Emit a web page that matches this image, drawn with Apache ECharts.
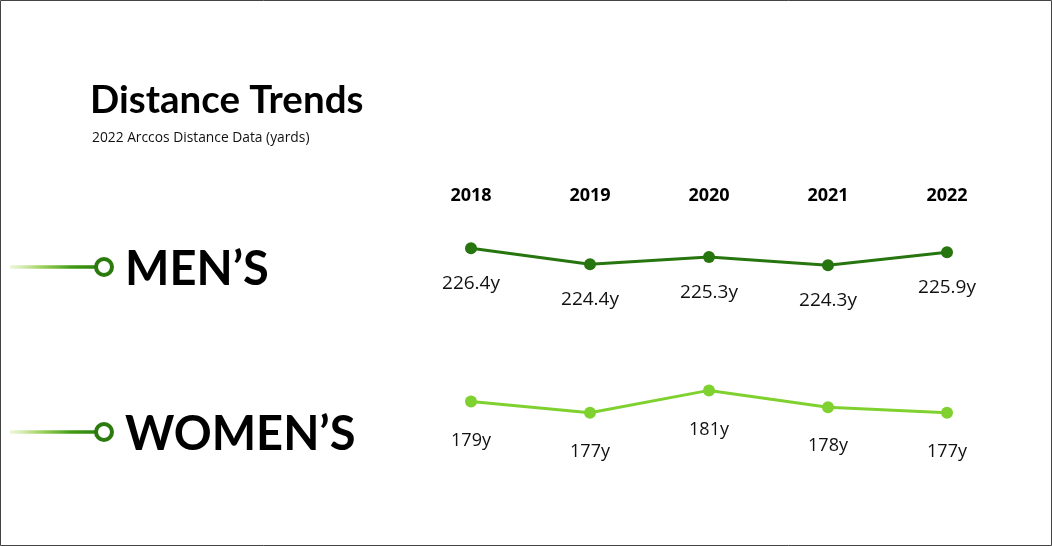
<!DOCTYPE html>
<html><head><meta charset="utf-8">
<script src="https://cdn.jsdelivr.net/npm/echarts@6/dist/echarts.min.js"></script>
<style>html,body{margin:0;padding:0;background:#fff}#c{width:1052px;height:546px}</style>
</head><body><div id="c"></div>
<script>
const years = ['2018','2019','2020','2021','2022'];
const mens = [226.4, 224.4, 225.3, 224.3, 225.9];
const womens = [179, 177, 181, 178, 177];
const groupLabels = ['MEN\u2019S', 'WOMEN\u2019S'];
const titleText = 'Distance Trends';
const subtitleText = '2022 Arccos Distance Data (yards)';

const chart = echarts.init(document.getElementById('c'), null, {renderer:'canvas'});
const darkGreen = '#27750f';
const lightGreen = '#7fd12f';
function lbl(size, dist){
  return {show:true, position:'bottom', distance:dist, fontFamily:'Open Sans', fontSize:size, color:'#111', formatter: p => p.value + 'y'};
}

function deco(y){
  return [
    {type:'line', shape:{x1:10,y1:y,x2:97,y2:y}, style:{lineWidth:3.5, stroke:{type:'linear',x:0,y:0,x2:1,y2:0,colorStops:[{offset:0,color:'rgba(200,230,150,0.3)'},{offset:0.35,color:'rgba(140,200,60,0.8)'},{offset:0.7,color:'#3f9a12'},{offset:1,color:'#2c800c'}]}}},
    {type:'circle', shape:{cx:104,cy:y,r:8}, style:{fill:'#fff', stroke:'#2a7a0e', lineWidth:4}}
  ];
}

chart.setOption({
  animation:false,
  title:[
    {text:titleText, left:90, top:81, padding:0, textStyle:{fontFamily:'Lato', fontWeight:'bold', fontSize:38.5, color:'#000'}},
    {text:subtitleText, left:92, top:131, padding:0, textStyle:{fontFamily:'Open Sans', fontWeight:'normal', fontSize:13.8, color:'#111'}},
    {text:groupLabels[0], left:125, top:246, padding:0, textStyle:{fontFamily:'Lato', fontWeight:'bold', fontSize:47, color:'#000'}},
    {text:groupLabels[1], left:125, top:411, padding:0, textStyle:{fontFamily:'Lato', fontWeight:'bold', fontSize:47, color:'#000'}}
  ],
  graphic:[
    {type:'rect', shape:{x:0.5,y:0.5,width:1051,height:545}, style:{fill:'none', stroke:'#444', lineWidth:1}, z:100},
    ...deco(267), ...deco(432)
  ],
  grid:[
    {left:471, width:476, top:219, height:64.8},
    {left:471, width:476, top:368, height:84}
  ],
  xAxis:[
    {type:'category', gridIndex:0, data:years, boundaryGap:false, position:'top',
     axisLine:{show:false}, axisTick:{show:false}, splitLine:{show:false},
     axisLabel:{margin:14, fontFamily:'Open Sans', fontWeight:'bold', fontSize:18, color:'#000'}},
    {type:'category', gridIndex:1, data:years, boundaryGap:false, show:false}
  ],
  yAxis:[
    {type:'value', gridIndex:0, min:222, max:230, show:false, splitLine:{show:false}},
    {type:'value', gridIndex:1, min:170, max:185, show:false, splitLine:{show:false}}
  ],
  series:[
    {type:'line', xAxisIndex:0, yAxisIndex:0, data:mens, symbol:'circle', symbolSize:12,
     lineStyle:{color:darkGreen, width:3}, itemStyle:{color:darkGreen}, label:lbl(19, 20)},
    {type:'line', xAxisIndex:1, yAxisIndex:1, data:womens, symbol:'circle', symbolSize:12,
     lineStyle:{color:lightGreen, width:3}, itemStyle:{color:lightGreen}, label:lbl(18, 24)}
  ]
});
</script></body></html>
